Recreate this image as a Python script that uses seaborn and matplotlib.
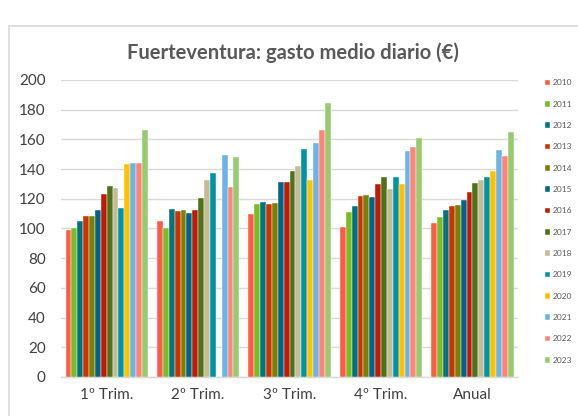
import numpy as np
import pandas as pd
import seaborn as sns
import matplotlib
matplotlib.use("Agg")
from matplotlib import pyplot as plt
from matplotlib.patches import Rectangle

# data
periods = ['1º Trim.', '2º Trim.', '3º Trim.', '4º Trim.', 'Anual']
years = [str(y) for y in range(2010, 2024)]

gasto_2010 = [99.3, 104.9, 109.7, 100.7, 103.8]
gasto_2011 = [100.4, 100.4, 116.6, 111.2, 107.6]
gasto_2012 = [104.9, 112.8, 118.0, 114.8, 112.6]
gasto_2013 = [108.5, 111.9, 116.4, 121.6, 115.1]
gasto_2014 = [108.1, 112.6, 117.3, 122.7, 115.5]
gasto_2015 = [112.1, 110.6, 131.2, 121.1, 119.1]
gasto_2016 = [123.1, 112.6, 131.2, 129.9, 124.5]
gasto_2017 = [128.3, 120.4, 138.7, 134.8, 130.8]
gasto_2018 = [127.4, 132.6, 142.2, 126.7, 132.4]
gasto_2019 = [113.7, 137.3, 153.3, 134.6, 134.6]
gasto_2020 = [143.4, np.nan, 132.8, 129.9, 138.9]
gasto_2021 = [144.0, 149.4, 157.8, 152.1, 153.0]
gasto_2022 = [143.8, 127.9, 166.3, 154.8, 149.0]
gasto_2023 = [166.3, 147.9, 184.3, 160.9, 164.9]

series = [gasto_2010, gasto_2011, gasto_2012, gasto_2013, gasto_2014,
          gasto_2015, gasto_2016, gasto_2017, gasto_2018, gasto_2019,
          gasto_2020, gasto_2021, gasto_2022, gasto_2023]

colors = ['#FF5A47', '#7DBB22', '#00737F', '#CC3300', '#7A8000',
          '#006388', '#C01A04', '#4C7318', '#C5BC96', '#0093A6',
          '#FFC000', '#6CB4E4', '#FF8478', '#98CB6F']

rows = []
for yr, vals in zip(years, series):
    for p, v in zip(periods, vals):
        rows.append({'periodo': p, 'anio': yr, 'gasto': v})
df = pd.DataFrame(rows)

sns.set_style("white")
plt.rcParams['font.family'] = ['Lato', 'DejaVu Sans']

fig = plt.figure(figsize=(5.78, 4.16), dpi=100)
ax = fig.add_axes([0.1055, 0.0938, 0.791, 0.714])

sns.barplot(data=df, x='periodo', y='gasto', hue='anio', order=periods,
            hue_order=years, palette=colors, saturation=1, width=0.9,
            errorbar=None, edgecolor='white', linewidth=0.3, ax=ax, zorder=3)

ax.set_ylim(0, 200)
ax.set_yticks(range(0, 201, 20))
ax.yaxis.grid(True, color='#D9D9D9', linewidth=1.0, zorder=0)
ax.set_axisbelow(True)
ax.set_xlabel('')
ax.set_ylabel('')
for s in ['top', 'left', 'right']:
    ax.spines[s].set_visible(False)
ax.spines['bottom'].set_color('#D9D9D9')
ax.spines['bottom'].set_linewidth(1.0)
ax.tick_params(axis='both', length=0, labelsize=11, labelcolor='#404040')
ax.tick_params(axis='y', pad=11)
ax.tick_params(axis='x', pad=8)

fig.text(0.507, 0.873, 'Fuerteventura: gasto medio diario (€)', ha='center',
         va='center', fontsize=14.5, fontweight='bold', color='#595959')

handles, labels = ax.get_legend_handles_labels()
ax.legend(handles, labels, loc='upper left', bbox_to_anchor=(0.935, 0.819),
          bbox_transform=fig.transFigure, frameon=False, fontsize=6,
          labelspacing=1.72, handlelength=0.7, handleheight=0.7,
          handletextpad=0.25, borderpad=0, labelcolor='#595959')

fig.patches.append(Rectangle((9 / 578, -0.05), 1.1, 0.05 + 1 - 26 / 416,
                             transform=fig.transFigure, fill=False,
                             edgecolor='#D9D9D9', linewidth=1.2))

fig.savefig('out.png', dpi=100)
